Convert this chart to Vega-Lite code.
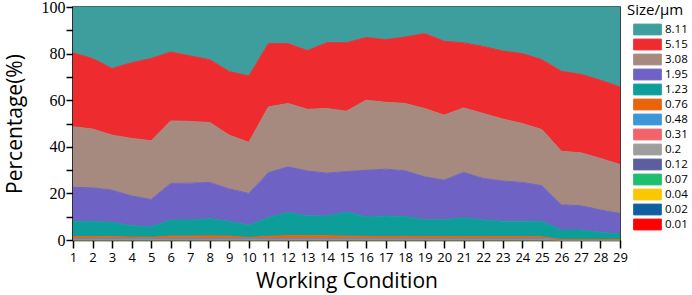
{
 "$schema": "https://vega.github.io/schema/vega-lite/v6.json",
 "width": 547, "height": 233,
 "autosize": "none",
 "padding": {"left": 73, "top": 7, "right": 72, "bottom": 55},
 "background": "white",
 "config": {"view": {"stroke": "black", "strokeWidth": 1.5}},
 "datasets": {"main": [
 {"c":1,"s":0.01,"v":0.01},{"c":1,"s":0.02,"v":0.02},{"c":1,"s":0.04,"v":0.03},{"c":1,"s":0.07,"v":0.05},{"c":1,"s":0.12,"v":0.1},{"c":1,"s":0.2,"v":0.1},{"c":1,"s":0.31,"v":0.15},{"c":1,"s":0.48,"v":0.2},{"c":1,"s":0.76,"v":0.8},{"c":1,"s":1.23,"v":6.64},{"c":1,"s":1.95,"v":14.5},{"c":1,"s":3.08,"v":26.0},{"c":1,"s":5.15,"v":31.7},{"c":1,"s":8.11,"v":19.7},
 {"c":2,"s":0.01,"v":0.01},{"c":2,"s":0.02,"v":0.02},{"c":2,"s":0.04,"v":0.03},{"c":2,"s":0.07,"v":0.05},{"c":2,"s":0.12,"v":0.1},{"c":2,"s":0.2,"v":0.1},{"c":2,"s":0.31,"v":0.15},{"c":2,"s":0.48,"v":0.2},{"c":2,"s":0.76,"v":0.8},{"c":2,"s":1.23,"v":6.54},{"c":2,"s":1.95,"v":14.4},{"c":2,"s":3.08,"v":25.2},{"c":2,"s":5.15,"v":30.3},{"c":2,"s":8.11,"v":22.1},
 {"c":3,"s":0.01,"v":0.01},{"c":3,"s":0.02,"v":0.02},{"c":3,"s":0.04,"v":0.03},{"c":3,"s":0.07,"v":0.05},{"c":3,"s":0.12,"v":0.1},{"c":3,"s":0.2,"v":0.1},{"c":3,"s":0.31,"v":0.15},{"c":3,"s":0.48,"v":0.2},{"c":3,"s":0.76,"v":0.7},{"c":3,"s":1.23,"v":6.24},{"c":3,"s":1.95,"v":13.8},{"c":3,"s":3.08,"v":23.6},{"c":3,"s":5.15,"v":28.6},{"c":3,"s":8.11,"v":26.4},
 {"c":4,"s":0.01,"v":0.01},{"c":4,"s":0.02,"v":0.02},{"c":4,"s":0.04,"v":0.03},{"c":4,"s":0.07,"v":0.05},{"c":4,"s":0.12,"v":0.1},{"c":4,"s":0.2,"v":0.1},{"c":4,"s":0.31,"v":0.15},{"c":4,"s":0.48,"v":0.2},{"c":4,"s":0.76,"v":0.6},{"c":4,"s":1.23,"v":4.84},{"c":4,"s":1.95,"v":12.8},{"c":4,"s":3.08,"v":24.7},{"c":4,"s":5.15,"v":32.5},{"c":4,"s":8.11,"v":23.9},
 {"c":5,"s":0.01,"v":0.01},{"c":5,"s":0.02,"v":0.02},{"c":5,"s":0.04,"v":0.03},{"c":5,"s":0.07,"v":0.05},{"c":5,"s":0.12,"v":0.1},{"c":5,"s":0.2,"v":0.1},{"c":5,"s":0.31,"v":0.15},{"c":5,"s":0.48,"v":0.2},{"c":5,"s":0.76,"v":0.5},{"c":5,"s":1.23,"v":4.54},{"c":5,"s":1.95,"v":11.7},{"c":5,"s":3.08,"v":25.2},{"c":5,"s":5.15,"v":35.3},{"c":5,"s":8.11,"v":22.1},
 {"c":6,"s":0.01,"v":0.01},{"c":6,"s":0.02,"v":0.02},{"c":6,"s":0.04,"v":0.03},{"c":6,"s":0.07,"v":0.05},{"c":6,"s":0.12,"v":0.1},{"c":6,"s":0.2,"v":0.1},{"c":6,"s":0.31,"v":0.15},{"c":6,"s":0.48,"v":0.2},{"c":6,"s":0.76,"v":1.0},{"c":6,"s":1.23,"v":6.94},{"c":6,"s":1.95,"v":15.7},{"c":6,"s":3.08,"v":26.8},{"c":6,"s":5.15,"v":29.6},{"c":6,"s":8.11,"v":19.3},
 {"c":7,"s":0.01,"v":0.01},{"c":7,"s":0.02,"v":0.02},{"c":7,"s":0.04,"v":0.03},{"c":7,"s":0.07,"v":0.05},{"c":7,"s":0.12,"v":0.1},{"c":7,"s":0.2,"v":0.1},{"c":7,"s":0.31,"v":0.15},{"c":7,"s":0.48,"v":0.2},{"c":7,"s":0.76,"v":1.0},{"c":7,"s":1.23,"v":6.94},{"c":7,"s":1.95,"v":15.8},{"c":7,"s":3.08,"v":26.5},{"c":7,"s":5.15,"v":28.1},{"c":7,"s":8.11,"v":21.0},
 {"c":8,"s":0.01,"v":0.01},{"c":8,"s":0.02,"v":0.02},{"c":8,"s":0.04,"v":0.03},{"c":8,"s":0.07,"v":0.05},{"c":8,"s":0.12,"v":0.1},{"c":8,"s":0.2,"v":0.1},{"c":8,"s":0.31,"v":0.15},{"c":8,"s":0.48,"v":0.2},{"c":8,"s":0.76,"v":1.1},{"c":8,"s":1.23,"v":7.34},{"c":8,"s":1.95,"v":15.6},{"c":8,"s":3.08,"v":25.7},{"c":8,"s":5.15,"v":27.0},{"c":8,"s":8.11,"v":22.6},
 {"c":9,"s":0.01,"v":0.01},{"c":9,"s":0.02,"v":0.02},{"c":9,"s":0.04,"v":0.03},{"c":9,"s":0.07,"v":0.05},{"c":9,"s":0.12,"v":0.1},{"c":9,"s":0.2,"v":0.1},{"c":9,"s":0.31,"v":0.15},{"c":9,"s":0.48,"v":0.2},{"c":9,"s":0.76,"v":1.0},{"c":9,"s":1.23,"v":6.34},{"c":9,"s":1.95,"v":13.9},{"c":9,"s":3.08,"v":23.1},{"c":9,"s":5.15,"v":27.3},{"c":9,"s":8.11,"v":27.7},
 {"c":10,"s":0.01,"v":0.01},{"c":10,"s":0.02,"v":0.02},{"c":10,"s":0.04,"v":0.03},{"c":10,"s":0.07,"v":0.05},{"c":10,"s":0.12,"v":0.1},{"c":10,"s":0.2,"v":0.1},{"c":10,"s":0.31,"v":0.15},{"c":10,"s":0.48,"v":0.2},{"c":10,"s":0.76,"v":0.4},{"c":10,"s":1.23,"v":5.34},{"c":10,"s":1.95,"v":13.6},{"c":10,"s":3.08,"v":21.9},{"c":10,"s":5.15,"v":28.5},{"c":10,"s":8.11,"v":29.6},
 {"c":11,"s":0.01,"v":0.01},{"c":11,"s":0.02,"v":0.02},{"c":11,"s":0.04,"v":0.03},{"c":11,"s":0.07,"v":0.05},{"c":11,"s":0.12,"v":0.1},{"c":11,"s":0.2,"v":0.1},{"c":11,"s":0.31,"v":0.15},{"c":11,"s":0.48,"v":0.2},{"c":11,"s":0.76,"v":0.9},{"c":11,"s":1.23,"v":8.14},{"c":11,"s":1.95,"v":19.2},{"c":11,"s":3.08,"v":28.2},{"c":11,"s":5.15,"v":27.2},{"c":11,"s":8.11,"v":15.7},
 {"c":12,"s":0.01,"v":0.01},{"c":12,"s":0.02,"v":0.02},{"c":12,"s":0.04,"v":0.03},{"c":12,"s":0.07,"v":0.05},{"c":12,"s":0.12,"v":0.1},{"c":12,"s":0.2,"v":0.1},{"c":12,"s":0.31,"v":0.15},{"c":12,"s":0.48,"v":0.2},{"c":12,"s":0.76,"v":1.2},{"c":12,"s":1.23,"v":10.04},{"c":12,"s":1.95,"v":19.5},{"c":12,"s":3.08,"v":27.2},{"c":12,"s":5.15,"v":25.7},{"c":12,"s":8.11,"v":15.7},
 {"c":13,"s":0.01,"v":0.01},{"c":13,"s":0.02,"v":0.02},{"c":13,"s":0.04,"v":0.03},{"c":13,"s":0.07,"v":0.05},{"c":13,"s":0.12,"v":0.1},{"c":13,"s":0.2,"v":0.1},{"c":13,"s":0.31,"v":0.15},{"c":13,"s":0.48,"v":0.2},{"c":13,"s":0.76,"v":1.2},{"c":13,"s":1.23,"v":8.54},{"c":13,"s":1.95,"v":19.2},{"c":13,"s":3.08,"v":26.5},{"c":13,"s":5.15,"v":25.2},{"c":13,"s":8.11,"v":18.7},
 {"c":14,"s":0.01,"v":0.01},{"c":14,"s":0.02,"v":0.02},{"c":14,"s":0.04,"v":0.03},{"c":14,"s":0.07,"v":0.05},{"c":14,"s":0.12,"v":0.1},{"c":14,"s":0.2,"v":0.1},{"c":14,"s":0.31,"v":0.15},{"c":14,"s":0.48,"v":0.2},{"c":14,"s":0.76,"v":1.2},{"c":14,"s":1.23,"v":8.44},{"c":14,"s":1.95,"v":18.4},{"c":14,"s":3.08,"v":27.7},{"c":14,"s":5.15,"v":28.3},{"c":14,"s":8.11,"v":15.3},
 {"c":15,"s":0.01,"v":0.01},{"c":15,"s":0.02,"v":0.02},{"c":15,"s":0.04,"v":0.03},{"c":15,"s":0.07,"v":0.05},{"c":15,"s":0.12,"v":0.1},{"c":15,"s":0.2,"v":0.1},{"c":15,"s":0.31,"v":0.15},{"c":15,"s":0.48,"v":0.2},{"c":15,"s":0.76,"v":1.0},{"c":15,"s":1.23,"v":10.34},{"c":15,"s":1.95,"v":17.4},{"c":15,"s":3.08,"v":25.9},{"c":15,"s":5.15,"v":29.4},{"c":15,"s":8.11,"v":15.3},
 {"c":16,"s":0.01,"v":0.01},{"c":16,"s":0.02,"v":0.02},{"c":16,"s":0.04,"v":0.03},{"c":16,"s":0.07,"v":0.05},{"c":16,"s":0.12,"v":0.1},{"c":16,"s":0.2,"v":0.1},{"c":16,"s":0.31,"v":0.15},{"c":16,"s":0.48,"v":0.2},{"c":16,"s":0.76,"v":0.9},{"c":16,"s":1.23,"v":8.44},{"c":16,"s":1.95,"v":19.9},{"c":16,"s":3.08,"v":30.1},{"c":16,"s":5.15,"v":26.9},{"c":16,"s":8.11,"v":13.1},
 {"c":17,"s":0.01,"v":0.01},{"c":17,"s":0.02,"v":0.02},{"c":17,"s":0.04,"v":0.03},{"c":17,"s":0.07,"v":0.05},{"c":17,"s":0.12,"v":0.1},{"c":17,"s":0.2,"v":0.1},{"c":17,"s":0.31,"v":0.15},{"c":17,"s":0.48,"v":0.2},{"c":17,"s":0.76,"v":0.8},{"c":17,"s":1.23,"v":8.84},{"c":17,"s":1.95,"v":20.1},{"c":17,"s":3.08,"v":28.7},{"c":17,"s":5.15,"v":26.9},{"c":17,"s":8.11,"v":14.0},
 {"c":18,"s":0.01,"v":0.01},{"c":18,"s":0.02,"v":0.02},{"c":18,"s":0.04,"v":0.03},{"c":18,"s":0.07,"v":0.05},{"c":18,"s":0.12,"v":0.1},{"c":18,"s":0.2,"v":0.1},{"c":18,"s":0.31,"v":0.15},{"c":18,"s":0.48,"v":0.2},{"c":18,"s":0.76,"v":0.9},{"c":18,"s":1.23,"v":8.54},{"c":18,"s":1.95,"v":19.6},{"c":18,"s":3.08,"v":28.9},{"c":18,"s":5.15,"v":28.5},{"c":18,"s":8.11,"v":12.9},
 {"c":19,"s":0.01,"v":0.01},{"c":19,"s":0.02,"v":0.02},{"c":19,"s":0.04,"v":0.03},{"c":19,"s":0.07,"v":0.05},{"c":19,"s":0.12,"v":0.1},{"c":19,"s":0.2,"v":0.1},{"c":19,"s":0.31,"v":0.15},{"c":19,"s":0.48,"v":0.2},{"c":19,"s":0.76,"v":0.8},{"c":19,"s":1.23,"v":7.24},{"c":19,"s":1.95,"v":18.4},{"c":19,"s":3.08,"v":29.3},{"c":19,"s":5.15,"v":32.2},{"c":19,"s":8.11,"v":11.4},
 {"c":20,"s":0.01,"v":0.01},{"c":20,"s":0.02,"v":0.02},{"c":20,"s":0.04,"v":0.03},{"c":20,"s":0.07,"v":0.05},{"c":20,"s":0.12,"v":0.1},{"c":20,"s":0.2,"v":0.1},{"c":20,"s":0.31,"v":0.15},{"c":20,"s":0.48,"v":0.2},{"c":20,"s":0.76,"v":0.8},{"c":20,"s":1.23,"v":7.24},{"c":20,"s":1.95,"v":17.0},{"c":20,"s":3.08,"v":27.9},{"c":20,"s":5.15,"v":31.7},{"c":20,"s":8.11,"v":14.7},
 {"c":21,"s":0.01,"v":0.01},{"c":21,"s":0.02,"v":0.02},{"c":21,"s":0.04,"v":0.03},{"c":21,"s":0.07,"v":0.05},{"c":21,"s":0.12,"v":0.1},{"c":21,"s":0.2,"v":0.1},{"c":21,"s":0.31,"v":0.15},{"c":21,"s":0.48,"v":0.2},{"c":21,"s":0.76,"v":0.8},{"c":21,"s":1.23,"v":8.14},{"c":21,"s":1.95,"v":19.4},{"c":21,"s":3.08,"v":27.7},{"c":21,"s":5.15,"v":27.9},{"c":21,"s":8.11,"v":15.4},
 {"c":22,"s":0.01,"v":0.01},{"c":22,"s":0.02,"v":0.02},{"c":22,"s":0.04,"v":0.03},{"c":22,"s":0.07,"v":0.05},{"c":22,"s":0.12,"v":0.1},{"c":22,"s":0.2,"v":0.1},{"c":22,"s":0.31,"v":0.15},{"c":22,"s":0.48,"v":0.2},{"c":22,"s":0.76,"v":0.8},{"c":22,"s":1.23,"v":7.14},{"c":22,"s":1.95,"v":17.8},{"c":22,"s":3.08,"v":27.9},{"c":22,"s":5.15,"v":28.8},{"c":22,"s":8.11,"v":16.9},
 {"c":23,"s":0.01,"v":0.01},{"c":23,"s":0.02,"v":0.02},{"c":23,"s":0.04,"v":0.03},{"c":23,"s":0.07,"v":0.05},{"c":23,"s":0.12,"v":0.1},{"c":23,"s":0.2,"v":0.1},{"c":23,"s":0.31,"v":0.15},{"c":23,"s":0.48,"v":0.2},{"c":23,"s":0.76,"v":0.8},{"c":23,"s":1.23,"v":6.64},{"c":23,"s":1.95,"v":17.2},{"c":23,"s":3.08,"v":26.6},{"c":23,"s":5.15,"v":29.2},{"c":23,"s":8.11,"v":18.9},
 {"c":24,"s":0.01,"v":0.01},{"c":24,"s":0.02,"v":0.02},{"c":24,"s":0.04,"v":0.03},{"c":24,"s":0.07,"v":0.05},{"c":24,"s":0.12,"v":0.1},{"c":24,"s":0.2,"v":0.1},{"c":24,"s":0.31,"v":0.15},{"c":24,"s":0.48,"v":0.2},{"c":24,"s":0.76,"v":0.8},{"c":24,"s":1.23,"v":6.64},{"c":24,"s":1.95,"v":16.6},{"c":24,"s":3.08,"v":25.3},{"c":24,"s":5.15,"v":30.0},{"c":24,"s":8.11,"v":20.0},
 {"c":25,"s":0.01,"v":0.01},{"c":25,"s":0.02,"v":0.02},{"c":25,"s":0.04,"v":0.03},{"c":25,"s":0.07,"v":0.05},{"c":25,"s":0.12,"v":0.1},{"c":25,"s":0.2,"v":0.1},{"c":25,"s":0.31,"v":0.15},{"c":25,"s":0.48,"v":0.2},{"c":25,"s":0.76,"v":0.7},{"c":25,"s":1.23,"v":6.64},{"c":25,"s":1.95,"v":15.3},{"c":25,"s":3.08,"v":24.1},{"c":25,"s":5.15,"v":30.0},{"c":25,"s":8.11,"v":22.6},
 {"c":26,"s":0.01,"v":0},{"c":26,"s":0.02,"v":0},{"c":26,"s":0.04,"v":0.01},{"c":26,"s":0.07,"v":0.01},{"c":26,"s":0.12,"v":0.02},{"c":26,"s":0.2,"v":0.02},{"c":26,"s":0.31,"v":0.03},{"c":26,"s":0.48,"v":0.05},{"c":26,"s":0.76,"v":0.1},{"c":26,"s":1.23,"v":4.06},{"c":26,"s":1.95,"v":10.8},{"c":26,"s":3.08,"v":23.0},{"c":26,"s":5.15,"v":34.3},{"c":26,"s":8.11,"v":27.6},
 {"c":27,"s":0.01,"v":0},{"c":27,"s":0.02,"v":0},{"c":27,"s":0.04,"v":0.01},{"c":27,"s":0.07,"v":0.01},{"c":27,"s":0.12,"v":0.02},{"c":27,"s":0.2,"v":0.02},{"c":27,"s":0.31,"v":0.03},{"c":27,"s":0.48,"v":0.05},{"c":27,"s":0.76,"v":0.05},{"c":27,"s":1.23,"v":4.11},{"c":27,"s":1.95,"v":10.4},{"c":27,"s":3.08,"v":22.7},{"c":27,"s":5.15,"v":33.7},{"c":27,"s":8.11,"v":28.9},
 {"c":28,"s":0.01,"v":0},{"c":28,"s":0.02,"v":0},{"c":28,"s":0.04,"v":0.01},{"c":28,"s":0.07,"v":0.01},{"c":28,"s":0.12,"v":0.02},{"c":28,"s":0.2,"v":0.02},{"c":28,"s":0.31,"v":0.03},{"c":28,"s":0.48,"v":0.05},{"c":28,"s":0.76,"v":0.05},{"c":28,"s":1.23,"v":3.11},{"c":28,"s":1.95,"v":9.6},{"c":28,"s":3.08,"v":22.1},{"c":28,"s":5.15,"v":33.6},{"c":28,"s":8.11,"v":31.4},
 {"c":29,"s":0.01,"v":0},{"c":29,"s":0.02,"v":0},{"c":29,"s":0.04,"v":0.01},{"c":29,"s":0.07,"v":0.01},{"c":29,"s":0.12,"v":0.02},{"c":29,"s":0.2,"v":0.02},{"c":29,"s":0.31,"v":0.03},{"c":29,"s":0.48,"v":0.05},{"c":29,"s":0.76,"v":0.05},{"c":29,"s":1.23,"v":2.41},{"c":29,"s":1.95,"v":8.8},{"c":29,"s":3.08,"v":21.0},{"c":29,"s":5.15,"v":33.3},{"c":29,"s":8.11,"v":34.3}
 ]},
 "data": {"name": "main"},
 "mark": {"type": "area", "opacity": 1, "line": {"color": "#1f4f9c", "strokeWidth": 1}},
 "encoding": {
  "x": {"field": "c", "type": "quantitative",
   "scale": {"domain": [1, 29], "nice": false, "zero": false},
   "axis": {"values": [1,2,3,4,5,6,7,8,9,10,11,12,13,14,15,16,17,18,19,20,21,22,23,24,25,26,27,28,29],
    "title": "Working Condition", "grid": false, "labelOverlap": false, "labelBound": false, "labelFlush": false,
    "labelFont": "Open Sans", "labelFontSize": 13, "labelColor": "black", "labelPadding": 3,
    "tickColor": "black", "tickSize": 8, "tickWidth": 1.5, "domainColor": "black", "domainWidth": 1.5,
    "titleFont": "Open Sans", "titleFontSize": 21, "titleFontWeight": "normal", "titleColor": "black", "titlePadding": 6}},
  "y": {"field": "v", "type": "quantitative", "stack": "zero",
   "scale": {"domain": [0, 100], "nice": false},
   "axis": {"values": [0,10,20,30,40,50,60,70,80,90,100],
    "labelExpr": "datum.value % 20 == 0 ? datum.label : ''",
    "title": "Percentage(%)", "grid": false,
    "labelFont": "Liberation Serif", "labelFontSize": 16, "labelColor": "black", "labelPadding": 1,
    "tickColor": "black", "tickSize": 7, "tickWidth": 1.5, "domainColor": "black", "domainWidth": 1.5,
    "titleFont": "Open Sans", "titleFontSize": 21, "titleFontWeight": "normal", "titleColor": "black", "titlePadding": 16}},
  "color": {"field": "s", "type": "nominal",
   "scale": {"domain": [8.11,5.15,3.08,1.95,1.23,0.76,0.48,0.31,0.2,0.12,0.07,0.04,0.02,0.01],
    "range": ["#3e9e9e","#ee2b2f","#a68a80","#6e63c4","#0e9e9a","#e8650c","#3c96d8","#f2636a","#9e9e9e","#5c5e9e","#1dbe6c","#fac800","#0f5fa0","#ff0000"]},
   "legend": {"orient": "none", "legendX": 554, "legendY": -4, "title": "Size/μm",
    "titleFont": "Open Sans", "titleFontSize": 15, "titleFontWeight": "normal", "titleColor": "black", "titlePadding": 5,
    "labelFont": "Open Sans", "labelFontSize": 11.5, "labelColor": "black",
    "symbolType": "M-2.3,-0.9H2.3V0.9H-2.3Z", "symbolSize": 144, "symbolStrokeColor": "#1f4f9c", "symbolStrokeWidth": 1,
    "symbolOpacity": 1, "symbolFillOpacity": 1, "symbolOffset": 14, "labelOffset": 11, "rowPadding": 0}},
  "order": {"field": "s", "type": "quantitative", "sort": "ascending"}
 }
}
